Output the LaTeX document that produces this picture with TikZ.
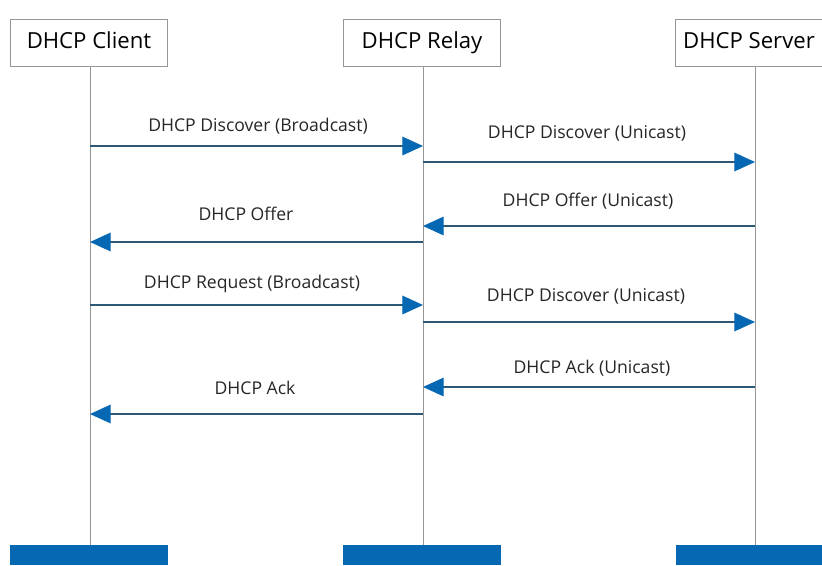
\documentclass[tikz,border=0pt]{standalone}
\usepackage{fontspec}
\setmainfont{Open Sans}
\usepackage{tikz}
\usetikzlibrary{arrows.meta}

\definecolor{barblue}{RGB}{6,104,178}
\definecolor{msgline}{RGB}{45,88,118}
\definecolor{lifegray}{RGB}{150,150,150}

\tikzset{
  actor/.style={draw=lifegray, fill=white, minimum width=118pt, minimum height=35pt, inner sep=2pt, text height=12pt, text depth=3.5pt, font=\fontsize{16.6}{18}\selectfont},
  lifeline/.style={draw=lifegray, line width=0.6pt},
  bar/.style={fill=barblue, draw=none, minimum width=118pt, minimum height=15pt, inner sep=0pt},
  msg/.style={draw=msgline, line width=0.8pt, -{Triangle[length=15.5pt,width=14pt,color=barblue,fill=barblue]}},
  lbl/.style={font=\fontsize{13.2}{15}\selectfont, text=black!85}
}

\begin{document}
\begin{tikzpicture}[x=0.75pt,y=-0.75pt]
    \useasboundingbox (0,0) rectangle (822,565);
    % actors
    \node[actor] (client) at (89,43) {DHCP Client};
    \node[actor] (relay) at (422,43) {DHCP Relay};
    \node[actor, minimum width=110pt] (server) at (749,43) {DHCP Server};
    % bars at the bottom
    \node[bar] (clientbar) at (89,555) {};
    \node[bar] (relaybar) at (422,555) {};
    \node[bar, minimum width=110pt] (serverbar) at (749,555) {};
    % lifelines
    \draw[lifeline] (client.south -| 90,0) -- (clientbar.north -| 90,0);
    \draw[lifeline] (relay.south -| 423,0) -- (relaybar.north -| 423,0);
    \draw[lifeline] (server.south -| 755,0) -- (serverbar.north -| 755,0);

    % message points
    \coordinate (c1) at (90,146);  \coordinate (r1) at (423,146);
    \coordinate (r2) at (423,162); \coordinate (s2) at (755,162);
    \coordinate (s3) at (755,226); \coordinate (r3) at (423,226);
    \coordinate (r4) at (423,242); \coordinate (c4) at (90,242);
    \coordinate (c5) at (90,305);  \coordinate (r5) at (423,305);
    \coordinate (r6) at (423,322); \coordinate (s6) at (755,322);
    \coordinate (s7) at (755,387); \coordinate (r7) at (423,387);
    \coordinate (r8) at (423,414); \coordinate (c8) at (90,414);

    % messages
    \draw[msg] (c1) -- (r1);
    \draw[msg] (r2) -- (s2);
    \draw[msg] (s3) -- (r3);
    \draw[msg] (r4) -- (c4);
    \draw[msg] (c5) -- (r5);
    \draw[msg] (r6) -- (s6);
    \draw[msg] (s7) -- (r7);
    \draw[msg] (r8) -- (c8);

    % labels
    \node[lbl] (l1) at (258,126) {DHCP Discover (Broadcast)};
    \node[lbl] (l2) at (587,133) {DHCP Discover (Unicast)};
    \node[lbl] (l3) at (588,201) {DHCP Offer (Unicast)};
    \node[lbl] (l4) at (246,214) {DHCP Offer};
    \node[lbl] (l5) at (252,284) {DHCP Request (Broadcast)};
    \node[lbl] (l6) at (586,296) {DHCP Discover (Unicast)};
    \node[lbl] (l7) at (592,368) {DHCP Ack (Unicast)};
    \node[lbl] (l8) at (255,388) {DHCP Ack};
\end{tikzpicture}
\end{document}
